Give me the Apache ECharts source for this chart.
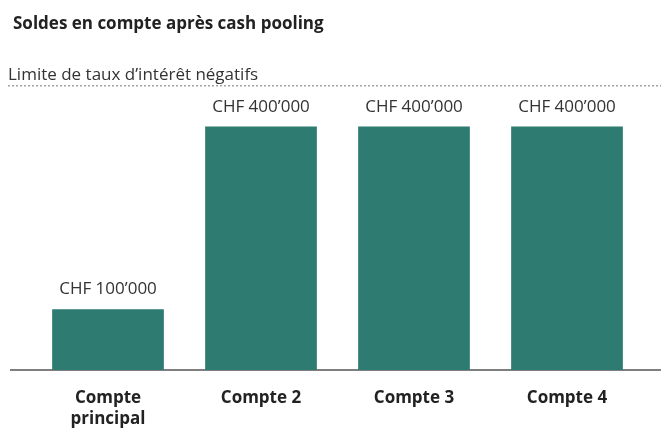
<!DOCTYPE html>
<html>
<head>
<meta charset="utf-8">
<script src="https://cdn.jsdelivr.net/npm/echarts@6/dist/echarts.min.js"></script>
<style>
	html, body { margin: 0; padding: 0; background: #fff; }
	#chart { width: 661px; height: 430px; }
</style>
</head>
<body>
<div id="chart"></div>
<script>
// données
var categories = ['Compte\nprincipal', 'Compte 2', 'Compte 3', 'Compte 4'];
var soldes = [100000, 400000, 400000, 400000];
var limiteValeur = 467000;	// ligne pointillée (estimée)
var limiteTexte = 'Limite de taux d\u2019intérêt négatifs';
var titre = 'Soldes en compte après cash pooling';

var police = '"Open Sans", "Noto Sans", sans-serif';
var vert = '#2d7b71';

// 400000 -> "CHF 400’000"
function chf(v) {
	return 'CHF ' + String(v).replace(/\B(?=(\d{3})+(?!\d))/g, '\u2019');
}

var myChart = echarts.init(document.getElementById('chart'));
var option = {
	animation: false,
	title: {
		text: titre,
		left: 8,
		top: 11,
		textStyle: { fontFamily: police, fontSize: 17, fontWeight: 'bold', color: '#222' }
	},
	grid: { left: 31.5, right: 17.5, top: 65.75, bottom: 58 },
	xAxis: {
		type: 'category',
		data: categories,
		axisLine: { show: false },
		axisTick: { show: false },
		axisLabel: {
			margin: 18,
			fontFamily: police,
			fontSize: 17,
			fontWeight: 'bold',
			color: '#222',
			lineHeight: 21
		}
	},
	yAxis: {
		type: 'value',
		min: 0,
		max: 500000,
		show: false,
		splitLine: { show: false }
	},
	series: [{
		type: 'bar',
		data: soldes,
		barCategoryGap: '27%',
		itemStyle: { color: vert },
		label: {
			show: true,
			position: 'top',
			distance: 11,
			fontFamily: police,
			fontSize: 17,
			color: '#333',
			formatter: function(p) { return chf(p.value); }
		}
	}]
};
myChart.setOption(option);

// ligne de base et ligne limite, placées via l'échelle
var y0 = myChart.convertToPixel({ yAxisIndex: 0 }, 0);
var yLim = myChart.convertToPixel({ yAxisIndex: 0 }, limiteValeur);
myChart.setOption({
	graphic: [
		{
			type: 'line',
			shape: { x1: 10, y1: y0, x2: 661, y2: y0 },
			style: { stroke: '#555', lineWidth: 1.5 }
		},
		{
			type: 'line',
			shape: { x1: 8, y1: yLim, x2: 661, y2: yLim },
			style: { stroke: '#777', lineWidth: 1, lineDash: [2, 2] }
		},
		{
			type: 'text',
			x: 8,
			y: yLim - 2,
			style: {
				text: limiteTexte,
				font: '17px ' + police,
				fill: '#333',
				textVerticalAlign: 'bottom'
			}
		}
	]
});
</script>
</body>
</html>
